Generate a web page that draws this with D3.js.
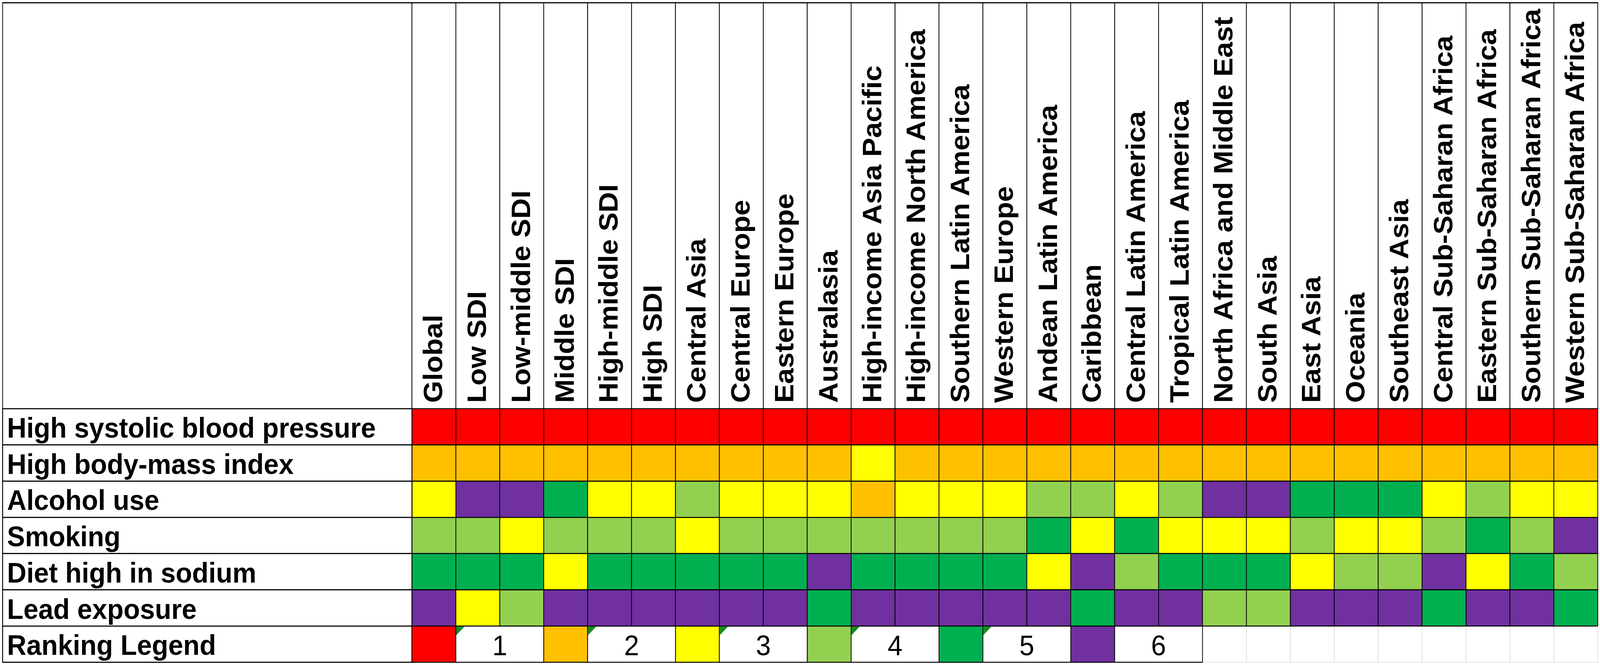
<!DOCTYPE html>
<html>
<head>
<meta charset="utf-8">
<script src="https://cdn.jsdelivr.net/npm/d3@7"></script>
<style>
  html, body { margin: 0; padding: 0; background: #fff; overflow: hidden; }
  svg { display: block; width: 100vw; height: 100vh; }
  text { font-family: "Liberation Sans", Arial, sans-serif; fill: #000; }
</style>
</head>
<body>
<svg id="chart" viewBox="0 0 4317 1702" preserveAspectRatio="none"></svg>
<script>
// ---------- data ----------
const regions = [
  "Global", "Low SDI", "Low-middle SDI", "Middle SDI", "High-middle SDI", "High SDI",
  "Central Asia", "Central Europe", "Eastern Europe", "Australasia",
  "High-income Asia Pacific", "High-income North America", "Southern Latin America",
  "Western Europe", "Andean Latin America", "Caribbean", "Central Latin America",
  "Tropical Latin America", "North Africa and Middle East", "South Asia", "East Asia",
  "Oceania", "Southeast Asia", "Central Sub-Saharan Africa", "Eastern Sub-Saharan Africa",
  "Southern Sub-Saharan Africa", "Western Sub-Saharan Africa"
];
const factors = [
  "High systolic blood pressure", "High body-mass index", "Alcohol use",
  "Smoking", "Diet high in sodium", "Lead exposure"
];
const rankSBP     = [1,1,1,1,1,1,1,1,1,1,1,1,1,1,1,1,1,1,1,1,1,1,1,1,1,1,1];
const rankBMI     = [2,2,2,2,2,2,2,2,2,2,3,2,2,2,2,2,2,2,2,2,2,2,2,2,2,2,2];
const rankAlcohol = [3,6,6,5,3,3,4,3,3,3,2,3,3,3,4,4,3,4,6,6,5,5,5,3,4,3,3];
const rankSmoking = [4,4,3,4,4,4,3,4,4,4,4,4,4,4,5,3,5,3,3,3,4,3,3,4,5,4,6];
const rankSodium  = [5,5,5,3,5,5,5,5,5,6,5,5,5,5,3,6,4,5,5,5,3,4,4,6,3,5,4];
const rankLead    = [6,3,4,6,6,6,6,6,6,5,6,6,6,6,6,5,6,6,4,4,6,6,6,5,6,6,5];
const rankRows = [rankSBP, rankBMI, rankAlcohol, rankSmoking, rankSodium, rankLead];

const legendTitle = "Ranking Legend";
const legendRanks = [1, 2, 3, 4, 5, 6];
const legendLabels = ["1", "2", "3", "4", "5", "6"];
const legendErrorMark = [true, true, true, true, true, false];

const rankColors = ["#FF0000", "#FFC000", "#FFFF00", "#92D050", "#00B050", "#7030A0"];

// ---------- layout ----------
const svg = d3.select("#chart");
const leftX = 7, topY = 7, labelRight = 1111.5, rightX = 4311;
const headerBottom = 1046, bottomY = 1695;
const rowNames = factors.concat([legendTitle]);

const x = d3.scaleBand().domain(regions).range([labelRight, rightX]).padding(0);
const y = d3.scaleBand().domain(rowNames).range([headerBottom, bottomY]).padding(0);
const color = d3.scaleOrdinal().domain(legendRanks).range(rankColors);
const colIdx = d3.scaleBand().domain(d3.range(regions.length)).range([labelRight, rightX]);

const fontSize = 72.5;

svg.append("rect").attr("x", 0).attr("y", 0).attr("width", 4317).attr("height", 1702).attr("fill", "#fff");

// header area
svg.append("rect").attr("x", leftX).attr("y", topY)
  .attr("width", labelRight - leftX).attr("height", headerBottom - topY)
  .attr("fill", "#fff").attr("stroke", "#000").attr("stroke-width", 2);

const hdr = svg.append("g");
hdr.selectAll("rect").data(regions).join("rect")
  .attr("x", d => x(d)).attr("y", topY)
  .attr("width", x.bandwidth()).attr("height", headerBottom - topY)
  .attr("fill", "#fff").attr("stroke", "#000").attr("stroke-width", 2);
hdr.selectAll("text").data(regions).join("text")
  .attr("transform", d => `translate(${x(d) + x.bandwidth() / 2 + 22},${headerBottom - 15}) rotate(-90)`)
  .attr("text-anchor", "start")
  .attr("font-size", fontSize).attr("font-weight", "bold")
  .text(d => d);

// data rows
const cells = [];
factors.forEach((f, i) => regions.forEach((r, j) => cells.push({ f, r, rank: rankRows[i][j] })));

svg.append("g").selectAll("rect").data(cells).join("rect")
  .attr("x", d => x(d.r)).attr("y", d => y(d.f))
  .attr("width", x.bandwidth()).attr("height", y.bandwidth())
  .attr("fill", d => color(d.rank))
  .attr("stroke", "#000").attr("stroke-width", 2);

// row labels
svg.append("g").selectAll("rect").data(rowNames).join("rect")
  .attr("x", leftX).attr("y", d => y(d))
  .attr("width", labelRight - leftX).attr("height", y.bandwidth())
  .attr("fill", "#fff").attr("stroke", "#000").attr("stroke-width", 2.5);
svg.append("g").selectAll("text").data(rowNames).join("text")
  .attr("x", leftX + 12).attr("y", d => y(d) + 74)
  .attr("font-size", fontSize).attr("font-weight", "bold")
  .text(d => d);

// legend row
const ly = y(legendTitle), lh = y.bandwidth(), bw = x.bandwidth();
const usedCols = legendRanks.length * 3;
svg.append("g").selectAll("rect").data(d3.range(usedCols, regions.length)).join("rect")
  .attr("x", d => colIdx(d)).attr("y", ly)
  .attr("width", bw).attr("height", lh)
  .attr("fill", "#fff").attr("stroke", "#d9d9d9").attr("stroke-width", 1.5);

const lg = svg.append("g");
lg.selectAll("rect.sw").data(legendRanks).join("rect").attr("class", "sw")
  .attr("x", (d, i) => colIdx(i * 3)).attr("y", ly)
  .attr("width", bw).attr("height", lh)
  .attr("fill", d => color(d)).attr("stroke", "#000").attr("stroke-width", 2);
lg.selectAll("rect.lab").data(legendLabels).join("rect").attr("class", "lab")
  .attr("x", (d, i) => colIdx(i * 3 + 1)).attr("y", ly)
  .attr("width", bw * 2).attr("height", lh)
  .attr("fill", "#fff").attr("stroke", "#000").attr("stroke-width", 2);
lg.selectAll("path").data(legendLabels.filter((d, i) => legendErrorMark[i])).join("path")
  .attr("d", d => {
    const i = legendLabels.indexOf(d);
    const x0 = colIdx(i * 3 + 1) + 1, y0 = ly + 1.5;
    return `M${x0},${y0}L${x0 + 22},${y0}L${x0},${y0 + 22}Z`;
  })
  .attr("fill", "#148c1e");
lg.selectAll("text").data(legendLabels).join("text")
  .attr("x", (d, i) => colIdx(i * 3 + 1) + bw)
  .attr("y", ly + 75)
  .attr("text-anchor", "middle")
  .attr("font-size", fontSize)
  .text(d => d);

// heavier horizontal separators
svg.append("g").selectAll("line").data(rowNames).join("line")
  .attr("x1", leftX).attr("x2", rightX)
  .attr("y1", d => y(d)).attr("y2", d => y(d))
  .attr("stroke", "#000").attr("stroke-width", 2.5);
svg.append("line")
  .attr("x1", leftX).attr("x2", colIdx(usedCols))
  .attr("y1", bottomY).attr("y2", bottomY)
  .attr("stroke", "#000").attr("stroke-width", 2.5);
svg.append("line")
  .attr("x1", leftX).attr("x2", rightX)
  .attr("y1", topY).attr("y2", topY)
  .attr("stroke", "#000").attr("stroke-width", 3);
</script>
</body>
</html>
